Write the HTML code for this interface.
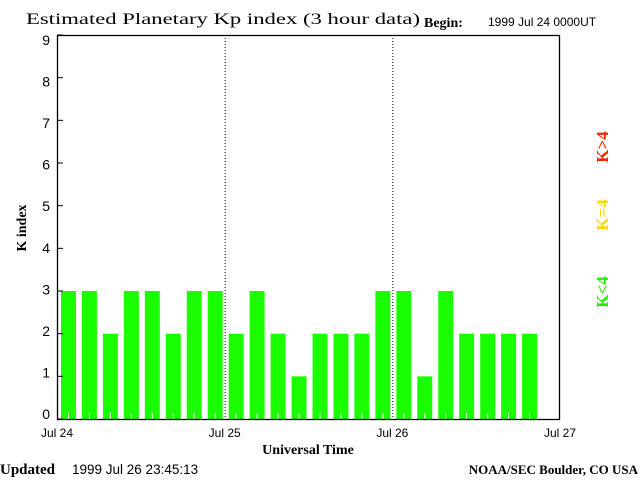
<!DOCTYPE html>
<html><head><meta charset="utf-8"><style>
body{margin:0;background:#fff;}
svg{display:block;}
</style></head><body>
<svg width="640" height="480" xmlns="http://www.w3.org/2000/svg">
<rect width="640" height="480" fill="#fff"/>
<text x="26" y="24" textLength="394" lengthAdjust="spacingAndGlyphs" font-family="Liberation Serif, serif" font-size="16">Estimated Planetary Kp index (3 hour data)</text>
<text x="424" y="27" font-family="Liberation Serif, serif" font-weight="bold" font-size="14">Begin:</text>
<text x="488" y="26" font-family="Liberation Sans, sans-serif" font-size="12">1999 Jul 24 0000UT</text>
<g id="bars"></g>
<g id="axes"></g>
<text transform="translate(26,228) rotate(-90)" text-anchor="middle" font-family="Liberation Serif, serif" font-weight="bold" font-size="14">K index</text>
<text x="308" y="454" text-anchor="middle" font-family="Liberation Serif, serif" font-weight="bold" font-size="14">Universal Time</text>
<text x="0" y="474" font-family="Liberation Serif, serif" font-weight="bold" font-size="15">Updated</text>
<text x="72" y="474" font-family="Liberation Sans, sans-serif" font-size="13.5">1999 Jul 26 23:45:13</text>
<text x="638" y="474" text-anchor="end" font-family="Liberation Serif, serif" font-weight="bold" font-size="13">NOAA/SEC Boulder, CO USA</text>
<text transform="translate(608,147) rotate(-90)" text-anchor="middle" fill="#ff2200" font-family="Liberation Serif, serif" font-weight="bold" font-size="17">K&gt;4</text>
<text transform="translate(608,215) rotate(-90)" text-anchor="middle" fill="#ffd700" font-family="Liberation Serif, serif" font-weight="bold" font-size="17">K=4</text>
<text transform="translate(608,292) rotate(-90)" text-anchor="middle" fill="#22ee00" font-family="Liberation Serif, serif" font-weight="bold" font-size="17">K&lt;4</text>
</svg>
<script>
const kpValues=[3,3,2,3,3,2,3,3,2,3,2,1,2,2,2,3,3,1,3,2,2,2,2];
const yTicks=[0,1,2,3,4,5,6,7,8,9];
const dayLabels=["Jul 24","Jul 25","Jul 26","Jul 27"];
const NS="http://www.w3.org/2000/svg";
const L=57,R=560,T=35,B=419;
const slotW=(R-L)/24;
function yS(v){return B-(v/9)*(B-T);}
function yLab(v){return 414-(v/9)*374+5;}
function xS(slot){return L+slot*slotW;}
function mk(tag,attrs,parent){const e=document.createElementNS(NS,tag);for(const k in attrs)e.setAttribute(k,attrs[k]);parent.appendChild(e);return e;}
const bars=document.getElementById('bars'),axes=document.getElementById('axes');
kpValues.forEach((v,i)=>{
  const x=xS(i)+4;
  const r=mk('rect',{x:x,y:yS(v),width:slotW-6,height:B-yS(v),fill:v>4?'#ff2200':(v==4?'#ffd700':'#1aff00')},bars);
  
  
  const t=mk('line',{x1:x+(slotW-6)/2,x2:x+(slotW-6)/2,y1:B,y2:B-6,stroke:'#fff','stroke-width':1},bars);
  
  
});
for(let d=1;d<3;d++){
  const x=xS(d*8)+0.5;
  const l=mk('line',{x1:x,x2:x,y1:T,y2:B,stroke:'#000','stroke-dasharray':'1,2'},axes);
  
  
}
const frame=mk('rect',{x:L+0.5,y:T+0.5,width:R-L-1,height:B-T,fill:'none',stroke:'#000','stroke-width':1.3},axes);


yTicks.forEach(v=>{
  const y=yS(v);
  const tk=mk('line',{x1:L,x2:L+6,y1:y,y2:y,stroke:'#000'},axes);
  
  
  const tx=mk('text',{x:50,y:yLab(v),'text-anchor':'end','font-family':'Liberation Sans, sans-serif','font-size':14},axes);
  tx.textContent=v;
  
  
});
dayLabels.forEach((s,d)=>{
  const tx=mk('text',{x:xS(d*8),y:437,'text-anchor':'middle','font-family':'Liberation Sans, sans-serif','font-size':12},axes);
  tx.textContent=s;
  
  
});
</script>
</body></html>
